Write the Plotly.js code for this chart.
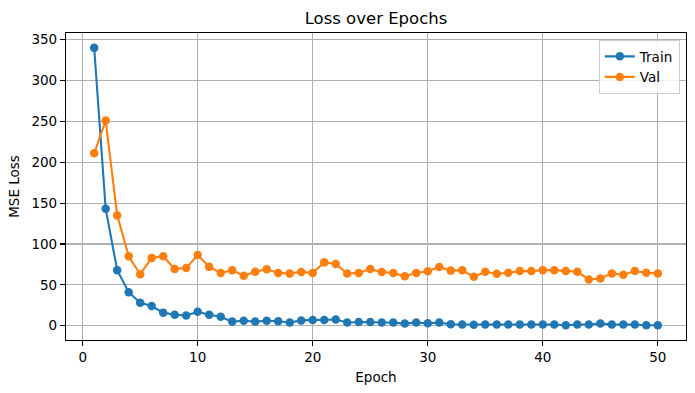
<!DOCTYPE html>
<html>
<head>
<meta charset="utf-8">
<script src="https://cdn.plot.ly/plotly-3.0.1.min.js"></script>
<style>html,body{margin:0;padding:0;background:#fff;}#chart{width:695px;height:393px;}</style>
</head>
<body>
<div id="chart"></div>
<script>
const epochs = [1,2,3,4,5,6,7,8,9,10,11,12,13,14,15,16,17,18,19,20,21,22,23,24,25,26,27,28,29,30,31,32,33,34,35,36,37,38,39,40,41,42,43,44,45,46,47,48,49,50];
const trainLoss = [340,143,68,41,28,24,16,13.5,12.5,17,13.5,11,5,6,5,6,5.5,4,6.5,7,7,7.5,4,4.5,4.5,4,3.8,2.6,3.8,3,3.8,1.8,1.5,1.2,1.5,1.5,1.5,1.5,1.5,1.5,1.5,0.5,1.5,1.5,2.8,1.5,1.5,1.5,0.5,0.5];
const valLoss = [211,251,135,85,63,83,85,69.5,70.5,86.5,72,64.5,68,61,66,69,64.6,63.8,65.8,64.6,77.5,75.5,63.8,64.6,69.4,65.8,64.6,60.5,64.6,66.6,71.8,67.4,67.8,59.8,66,63.6,64.8,66.8,66.8,68,68,66.8,66,56.6,57.8,64,62.3,66.8,64.8,64];
const seriesNames = ["Train", "Val"];

const font = "DejaVu Sans, sans-serif";
const traces = [
  {x: epochs, y: trainLoss, name: seriesNames[0], mode: "lines+markers",
   line: {color: "#1f77b4", width: 2.1}, marker: {color: "#1f77b4", size: 8.5}},
  {x: epochs, y: valLoss, name: seriesNames[1], mode: "lines+markers",
   line: {color: "#ff7f0e", width: 2.1}, marker: {color: "#ff7f0e", size: 8.5}}
];
const axisCommon = {
  showline: true, linecolor: "black", linewidth: 1.1, mirror: true,
  ticks: "outside", ticklen: 5, tickwidth: 1.1, tickcolor: "black",
  showgrid: true, gridcolor: "#b0b0b0", gridwidth: 1.1, zeroline: false,
  tickfont: {family: font, size: 13.5, color: "black"}
};
const layout = {
  width: 695, height: 393,
  margin: {l: 66, r: 9, t: 33, b: 53},
  paper_bgcolor: "white", plot_bgcolor: "white",
  title: {text: "Loss over Epochs", font: {family: font, size: 16.5, color: "black"}, x: 0.541, xanchor: "center", y: 0.953, yanchor: "middle"},
  xaxis: Object.assign({}, axisCommon, {range: [-1.45, 52.45], tickvals: [0,10,20,30,40,50],
    title: {text: "Epoch", font: {family: font, size: 13.5, color: "black"}, standoff: 8}}),
  yaxis: Object.assign({}, axisCommon, {range: [-17.5, 358.2], tickvals: [0,50,100,150,200,250,300,350],
    title: {text: "MSE Loss", font: {family: font, size: 13.5, color: "black"}, standoff: 8}}),
  showlegend: true,
  legend: {x: 0.99, xanchor: "right", y: 0.977, yanchor: "top",
    bgcolor: "rgba(255,255,255,0.8)", bordercolor: "#cccccc", borderwidth: 1,
    font: {family: font, size: 13.5, color: "black"}, itemwidth: 30, tracegroupgap: 0}
};
Plotly.newPlot("chart", traces, layout, {displayModeBar: false, staticPlot: true});
</script>
</body>
</html>
